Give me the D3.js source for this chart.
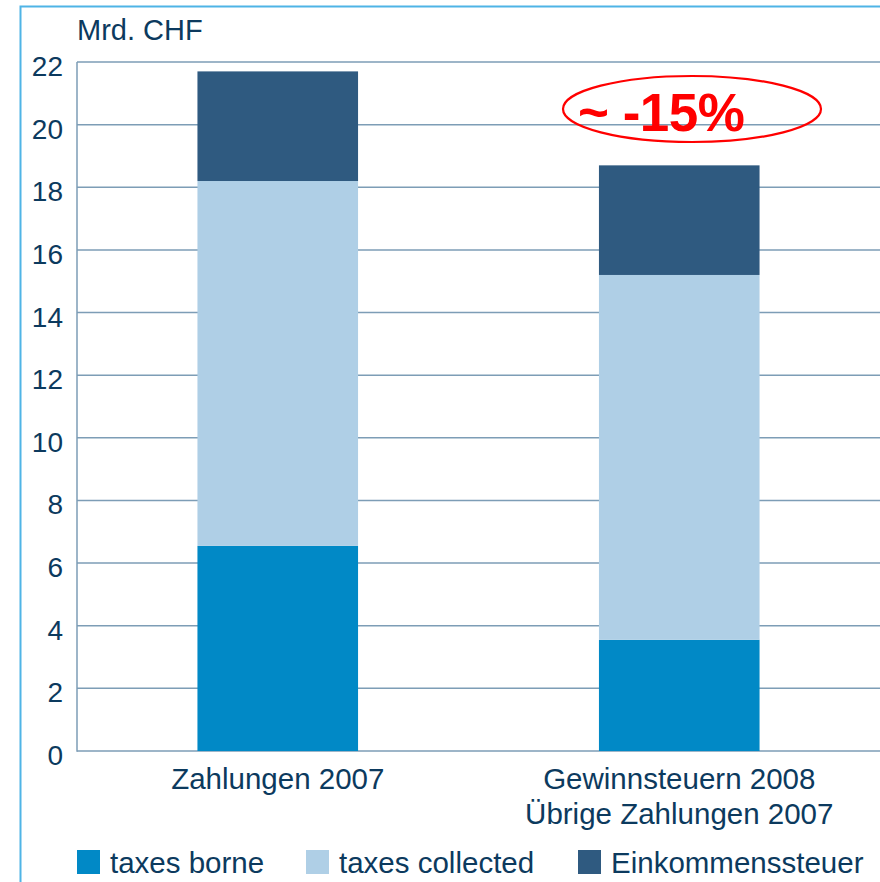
<!DOCTYPE html>
<html><head><meta charset="utf-8">
<script src="https://cdn.jsdelivr.net/npm/d3@7"></script>
<style>html,body{margin:0;padding:0;background:#fff;}svg{display:block;}</style>
</head><body>
<script>
const categories = [["Zahlungen 2007"], ["Gewinnsteuern 2008", "Übrige Zahlungen 2007"]];
const seriesNames = ["taxes borne", "taxes collected", "Einkommenssteuer"];
const taxesBorne = [6.55, 3.55];
const taxesCollected = [11.65, 11.65];
const einkommenssteuer = [3.5, 3.5];
const yTicks = [0, 2, 4, 6, 8, 10, 12, 14, 16, 18, 20, 22];
const colors = ["#0189c6", "#afcfe6", "#2f5a80"];
const annotation = "~ -15%";

const W = 880, H = 882;
const textColor = "#0c3a5e";
const gridColor = "#7d9db6";
const font = "'Liberation Sans', Arial, sans-serif";

const svg = d3.select("body").append("svg").attr("width", W).attr("height", H);

// frame
svg.append("path").attr("d", `M20.5,${H} L20.5,6.5 L${W},6.5`).attr("fill","none").attr("stroke","#4fb4e6").attr("stroke-width",2);

const keys = categories.map(c => c.join(" / "));
const x = d3.scaleBand().domain(keys).range([77, 880]).paddingInner(0.6).paddingOuter(0.3);
const y = d3.scaleLinear().domain([0, 22]).range([751, 62]);

// gridlines
svg.append("g").selectAll("line").data(yTicks).join("line")
  .attr("x1", 77).attr("x2", W).attr("y1", d => y(d)).attr("y2", d => y(d))
  .attr("stroke", gridColor).attr("stroke-width", 1.5);
svg.append("line").attr("x1",77).attr("x2",77).attr("y1",y(22)).attr("y2",y(0)+0.75).attr("stroke",gridColor).attr("stroke-width",1.5);

// tick labels
svg.append("g").selectAll("text").data(yTicks).join("text")
  .attr("x", 63).attr("y", d => y(d) + 14).attr("text-anchor","end")
  .attr("font-family", font).attr("font-size", 28).attr("fill", textColor).text(d => d);

svg.append("text").attr("x", 77).attr("y", 40).attr("font-family", font).attr("font-size", 29)
  .attr("fill", textColor).text("Mrd. CHF");

// stacked data
const rows = keys.map((k, i) => ({key: k, "taxes borne": taxesBorne[i], "taxes collected": taxesCollected[i], "Einkommenssteuer": einkommenssteuer[i]}));
const stacked = d3.stack().keys(seriesNames)(rows);
svg.append("g").selectAll("g").data(stacked).join("g").attr("fill", (d, i) => colors[i])
  .selectAll("rect").data(d => d).join("rect")
  .attr("x", d => x(d.data.key)).attr("width", x.bandwidth())
  .attr("y", d => y(d[1])).attr("height", d => y(d[0]) - y(d[1]));

// category labels
categories.forEach((lines, i) => {
  const cx = x(keys[i]) + x.bandwidth() / 2;
  lines.forEach((t, j) => {
    svg.append("text").attr("x", cx).attr("y", 789 + j * 35).attr("text-anchor","middle")
      .attr("font-family", font).attr("font-size", 29.5).attr("fill", textColor).text(t);
  });
});

// legend
const legendX = [77, 306, 578];
seriesNames.forEach((n, i) => {
  svg.append("rect").attr("x", legendX[i]).attr("y", 850).attr("width", 23).attr("height", 24).attr("fill", colors[i]);
  svg.append("text").attr("x", legendX[i] + 33).attr("y", 873).attr("font-family", font).attr("font-size", 29.5)
    .attr("fill", textColor).text(n);
});

// annotation
svg.append("ellipse").attr("cx", 692).attr("cy", 109).attr("rx", 129).attr("ry", 33)
  .attr("fill","none").attr("stroke","#ff0000").attr("stroke-width",2.2);
svg.append("text").attr("x", 578).attr("y", 131).attr("font-family", font).attr("font-size", 53)
  .attr("font-weight","bold").attr("fill","#ff0000").attr("textLength", 167).text(annotation);
</script>
</body></html>
